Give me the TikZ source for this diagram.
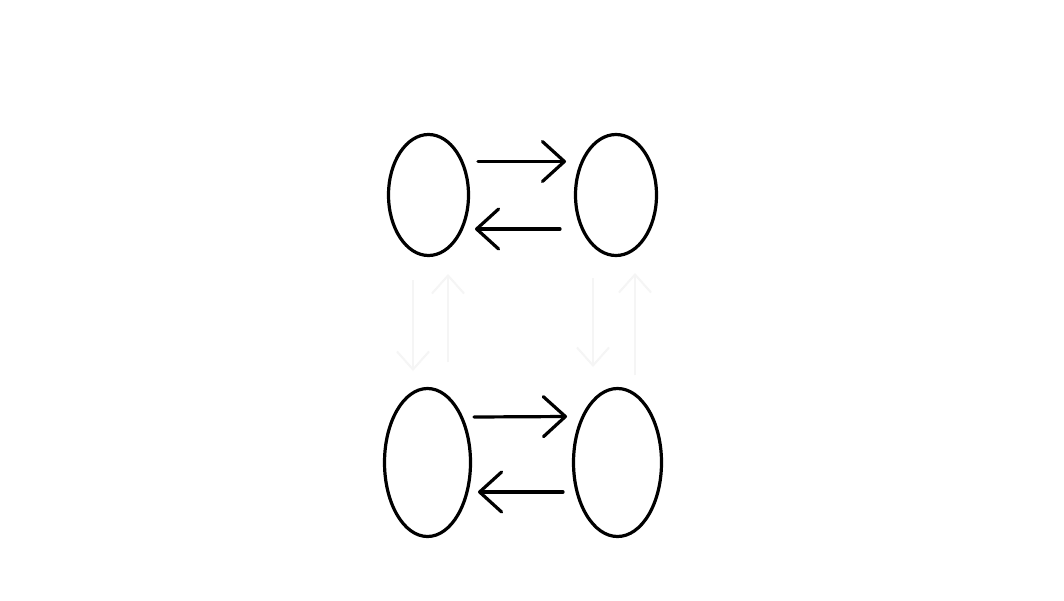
\documentclass[tikz,border=0pt]{standalone}
\usetikzlibrary{shapes.geometric,arrows.meta}
\begin{document}
\begin{tikzpicture}[x=1pt,y=-1pt,
  blob/.style={draw=black,line width=3.2pt,ellipse,inner sep=0pt},
  harrow/.style={line width=3.2pt,line cap=round,-{Straight Barb[length=22pt,width=40pt,line cap=round,line join=round]}},
  faint/.style={draw=black!4,line width=2pt,-{Straight Barb[length=18pt,width=32pt]}}]
\fill[white] (0,0) rectangle (1064,600);
\useasboundingbox (0,0) rectangle (1064,600);
\node[blob,minimum width=80pt,minimum height=121pt] (tl) at (428.5,195) {};
\node[blob,minimum width=81pt,minimum height=121pt] (tr) at (616,195) {};
\node[blob,minimum width=86pt,minimum height=148pt] (bl) at (427.5,462.5) {};
\node[blob,minimum width=88pt,minimum height=148pt] (br) at (617.5,462.5) {};
% top pair
\coordinate (t1s) at (478,161.5);
\coordinate (t1e) at (566,161.5);
\coordinate (t2s) at (560,229);
\coordinate (t2e) at (475,229);
\draw[harrow] (t1s) -- (t1e);
\draw[harrow] (t2s) -- (t2e);
% bottom pair
\coordinate (b1s) at (474,417);
\coordinate (b1e) at (567,416.5);
\coordinate (b2s) at (563,492);
\coordinate (b2e) at (478,492);
\draw[harrow] (b1s) -- (b1e);
\draw[harrow] (b2s) -- (b2e);
% faint vertical arrows
\coordinate (l1s) at (413,280);
\coordinate (l1e) at (413,371);
\coordinate (l2s) at (448,362);
\coordinate (l2e) at (448,274);
\coordinate (r1s) at (593,278);
\coordinate (r1e) at (593,367);
\coordinate (r2s) at (635,375);
\coordinate (r2e) at (635,273);
\draw[faint] (l1s) -- (l1e);
\draw[faint] (l2s) -- (l2e);
\draw[faint] (r1s) -- (r1e);
\draw[faint] (r2s) -- (r2e);
\end{tikzpicture}
\end{document}
